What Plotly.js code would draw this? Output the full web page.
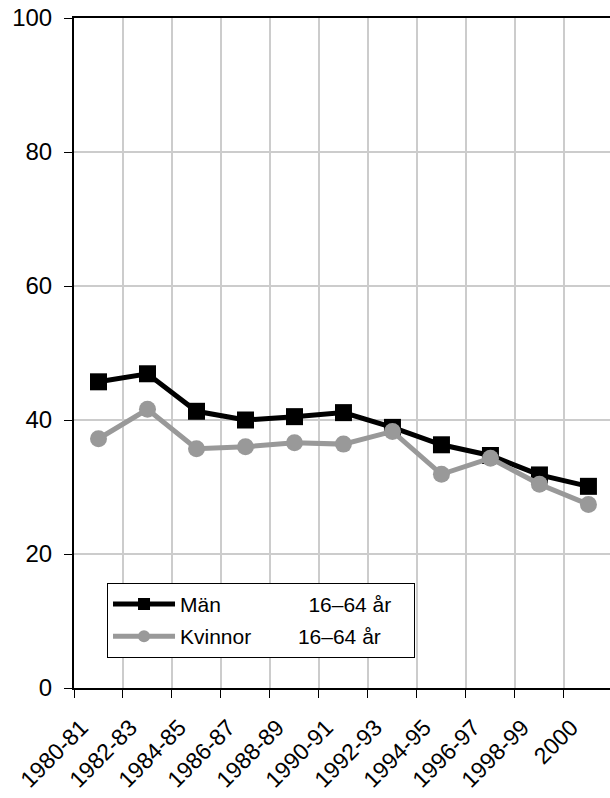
<!DOCTYPE html>
<html>
<head>
<meta charset="utf-8">
<script src="https://cdn.plot.ly/plotly-3.0.1.min.js"></script>
<style>html,body{margin:0;padding:0;background:#fff;}#chart{width:610px;height:798px;}</style>
</head>
<body>
<div id="chart"></div>
<script>
const categories = ["1980-81","1982-83","1984-85","1986-87","1988-89","1990-91","1992-93","1994-95","1996-97","1998-99","2000"];
const manValues = [45.7, 46.9, 41.3, 40.0, 40.5, 41.1, 38.9, 36.3, 34.7, 31.8, 30.1];
const kvinnorValues = [37.2, 41.6, 35.7, 36.0, 36.6, 36.4, 38.3, 31.9, 34.3, 30.4, 27.4];
const NB = "\u00A0";
const manName = "Män" + NB.repeat(15) + "16–64 år" + NB.repeat(3);
const kvinnorName = "Kvinnor" + NB.repeat(8) + "16–64 år" + NB.repeat(3);
const yTicks = [0, 20, 40, 60, 80, 100];

const font = "Liberation Sans, Arial, sans-serif";

const traces = [
  {
    x: categories, y: manValues, name: manName, type: "scatter", mode: "lines+markers",
    legendgroup: "m",
    line: {color: "#000000", width: 5},
    marker: {symbol: "square", size: 17, color: "#000000"}
  },
  {
    x: categories, y: kvinnorValues, name: kvinnorName, type: "scatter", mode: "lines+markers",
    legendgroup: "k",
    line: {color: "#999999", width: 5},
    marker: {symbol: "circle", size: 17, color: "#999999"}
  }
];

const layout = {
  width: 610, height: 798,
  margin: {l: 74, r: 0, t: 18, b: 110},
  paper_bgcolor: "#ffffff", plot_bgcolor: "#ffffff",
  font: {family: font, size: 21, color: "#000000"},
  showlegend: true,
  legend: {
    x: 0.0616, y: 0.157, xanchor: "left", yanchor: "top",
    bordercolor: "#000000", borderwidth: 1, bgcolor: "#ffffff",
    font: {family: font, size: 21, color: "#000000"},
    traceorder: "grouped", tracegroupgap: 2,
    itemwidth: 62, itemsizing: "constant"
  },
  xaxis: {
    type: "category",
    range: [-0.5, 10.44],
    tickson: "boundaries",
    showgrid: true, gridcolor: "#cccccc", gridwidth: 1.5,
    showline: true, linecolor: "#000000", linewidth: 2, mirror: true,
    ticks: "outside", ticklen: 8, tickcolor: "#000000", tickwidth: 1,
    tickangle: -45,
    ticklabelshift: -17, ticklabelstandoff: 15,
    tickfont: {family: font, size: 23, color: "#000000"},
    zeroline: false, fixedrange: true
  },
  yaxis: {
    range: [0, 100],
    tickmode: "array", tickvals: yTicks, ticktext: yTicks.map(String),
    showgrid: true, gridcolor: "#cccccc", gridwidth: 1.5,
    showline: true, linecolor: "#000000", linewidth: 2,
    ticks: "outside", ticklen: 8, tickcolor: "#000000", tickwidth: 1,
    ticklabelstandoff: 7,
    tickfont: {family: font, size: 24, color: "#000000"},
    zeroline: false, fixedrange: true
  }
};

Plotly.newPlot("chart", traces, layout, {displayModeBar: false, staticPlot: true});
</script>
</body>
</html>
